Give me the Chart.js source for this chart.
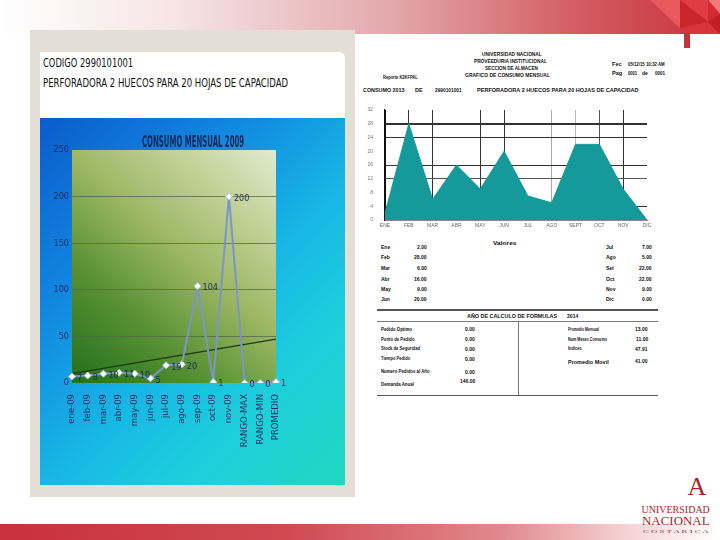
<!DOCTYPE html>
<html><head><meta charset="utf-8">
<script src="https://cdn.jsdelivr.net/npm/chart.js@4.4.0/dist/chart.umd.min.js"></script>
<style>
html,body{margin:0;padding:0;}
body{width:720px;height:540px;position:relative;overflow:hidden;background:#fff;font-family:"Liberation Sans",Arial,sans-serif;}
.abs{position:absolute;}
#topband{left:0;top:0;width:720px;height:34px;background:linear-gradient(to right,#ffffff 0%,#f6e3e4 25%,#e2a7aa 55%,#d35d62 80%,#c9323a 100%);}
#botband{left:0;top:524px;width:720px;height:16px;background:linear-gradient(to right,#c8313b 0%,#d04a52 40%,#e08a8e 70%,#f6d6d7 88%,#ffffff 100%);}
#leftpanel{left:30px;top:30px;width:325px;height:467px;background:#e4dfd6;}
#whitebox{left:40px;top:52px;width:305px;height:68px;background:#fff;border-radius:0 6px 0 0;}
#bluebox{left:40px;top:118px;width:305px;height:367px;background:linear-gradient(135deg,#0b5ccd 0%,#1288e0 30%,#17b6e4 55%,#1dcfdc 75%,#1fd8c0 100%);}
.ln{position:absolute;background:#555;}
</style></head><body>
<div id="topband" class="abs"></div>
<svg class="abs" style="left:630px;top:0" width="90" height="50">
  <polygon points="20,0 50,0 50,28" fill="#e85a5e"/>
  <polygon points="50,0 78,0 78,22" fill="#e03c44"/>
  <polygon points="50,0 50,28 78,22" fill="#c9252d"/>
  <polygon points="78,0 90,0 90,14" fill="#f07a7c"/>
  <polygon points="78,0 78,22 90,14" fill="#d42a32"/>
  <polygon points="50,28 78,22 90,34 60,34" fill="#d8343b"/>
  <polygon points="78,22 90,14 90,34" fill="#bf1f27"/>
</svg>
<div class="abs" style="left:684px;top:33px;width:6px;height:15px;background:#c8323a"></div>
<div id="leftpanel" class="abs"></div>
<div id="whitebox" class="abs"></div>
<div id="bluebox" class="abs"></div>
<div class="abs" style="left:40px;top:118px;width:305px;height:367px;">
  <canvas id="c1" width="305" height="367" style="width:305px;height:367px"></canvas>
</div>
<div class="abs" style="left:360px;top:95px;width:330px;height:140px;">
  <canvas id="c2" width="330" height="140" style="width:330px;height:140px"></canvas>
</div>
<div id="botband" class="abs"></div>
<script>
// ---------- DATA ----------
const leftCategories = ['ene-09','feb-09','mar-09','abr-09','may-09','jun-09','jul-09','ago-09','sep-09','oct-09','nov-09','RANGO-MAX','RANGO-MIN','PROMEDIO'];
const leftValues = [7, 8, 10, 11, 10, 5, 19, 20, 104, 1, 200, 0, 0, 1];
const trendValues = [10, null, null, null, null, null, null, null, null, null, null, null, null, 47];
const leftYTicks = [0, 50, 100, 150, 200, 250];

const rightCategories = ['ENE','FEB','MAR','ABR','MAY','JUN','JUL','AGO','SEPT','OCT','NOV','DIC'];
const rightValues = [2, 28, 6, 16, 9, 20, 7, 5, 22, 22, 9, 0];
const rightYTicks = [0, 4, 8, 12, 16, 20, 24, 28, 32];
const tableMonths = ['Ene','Feb','Mar','Abr','May','Jun','Jul','Ago','Set','Oct','Nov','Dic'];

const formulaLabelsLeft = ['Pedido Optimo','Punto de Pedido','Stock de Seguridad','Tiempo Pedido','Numero Pedidos al Año','Demanda Anual'];
const formulaValuesLeft = ['0.00','0.00','0.00','0.00','0.00','146.00'];
const formulaLabelsRight = ['Promedio Mensual','Num Meses Consumo','Indices','Promedio Movil'];
const formulaValuesRight = ['13.00','11.00','47.91','41.00'];

// ---------- TEXT HELPER ----------
function placeText(t){
  const d=document.createElement('div');
  d.textContent=t.text;
  d.style.cssText='position:absolute;white-space:nowrap;line-height:1;left:0;top:0;'+
    'font:'+(t.weight||'normal')+' '+t.size+'px '+(t.family||'"Liberation Sans", Arial, sans-serif')+';color:'+(t.color||'#111')+';'+(t.extra||'');
  document.body.appendChild(d);
  const w=d.offsetWidth,h=d.offsetHeight;
  const sx=t.w? t.w/w : 1;
  let left=t.x;
  if(t.align==='center') left=t.x-w*sx/2;
  else if(t.align==='right') left=t.x-w*sx;
  d.style.left=left+'px';
  d.style.top=(t.y-h/2)+'px';
  d.style.transformOrigin='0 50%';
  d.style.transform='scaleX('+sx+')';
}
const NARROW='"Liberation Sans Narrow","DejaVu Sans Condensed",sans-serif';
const SERIF='"Liberation Serif","DejaVu Serif",serif';

// left header
placeText({text:'CODIGO 2990101001',x:43,y:62,size:13,family:NARROW,w:90});
placeText({text:'PERFORADORA  2 HUECOS  PARA 20 HOJAS DE CAPACIDAD',x:43,y:82.5,size:13,family:NARROW,w:245});
placeText({text:'CONSUMO MENSUAL  2009',x:192.5,y:141.5,size:15,weight:'bold',family:NARROW,w:102,color:'#14275a',align:'center'});

// right header
const B='bold';
placeText({text:'UNIVERSIDAD NACIONAL',x:512,y:54,size:6,weight:B,w:60,align:'center'});
placeText({text:'PROVEEDURIA INSTITUCIONAL',x:510,y:61,size:6,weight:B,w:73,align:'center'});
placeText({text:'SECCION DE ALMACEN',x:511,y:67.5,size:6,weight:B,w:53,align:'center'});
placeText({text:'GRAFICO DE CONSUMO MENSUAL',x:507.5,y:74.5,size:6,weight:B,w:85,align:'center'});
placeText({text:'Reporte K2KFPAL',x:383,y:77,size:4.5,weight:B,w:35});
placeText({text:'Fec',x:612,y:63.5,size:5,weight:B,w:10});
placeText({text:'05/12/15 10:32 AM',x:628,y:63.5,size:5,weight:B,w:37});
placeText({text:'Pag',x:612,y:72.5,size:5,weight:B,w:10});
placeText({text:'0001',x:628,y:72.5,size:5,weight:B,w:9});
placeText({text:'de',x:642,y:72.5,size:5,weight:B,w:6});
placeText({text:'0001',x:655,y:72.5,size:5,weight:B,w:10});
placeText({text:'CONSUMO 2013',x:363,y:90,size:5.5,weight:B,w:42});
placeText({text:'DE',x:415,y:90,size:5.5,weight:B,w:8});
placeText({text:'2990101001',x:435,y:90,size:5.5,weight:B,w:27});
placeText({text:'PERFORADORA 2 HUECOS PARA 20 HOJAS DE CAPACIDAD',x:477,y:90,size:5.5,weight:B,w:161});

// values table
placeText({text:'Valores',x:505,y:243,size:5.5,weight:B,align:'center',w:24});
const rowY=[246.7,257.3,268.3,278.5,289,299.3];
for(let i=0;i<6;i++){
  placeText({text:tableMonths[i],x:381,y:rowY[i],size:5,weight:B});
  placeText({text:rightValues[i].toFixed(2),x:427,y:rowY[i],size:5,weight:B,align:'right'});
  placeText({text:tableMonths[i+6],x:606,y:rowY[i],size:5,weight:B});
  placeText({text:rightValues[i+6].toFixed(2),x:652,y:rowY[i],size:5,weight:B,align:'right'});
}
// formulas table
placeText({text:'AÑO DE CALCULO DE FORMULAS',x:467,y:315.7,size:6,weight:B,w:90});
placeText({text:'2014',x:567,y:315.7,size:6,weight:B,w:11});
const fLY=[329,339,348.5,358.5,371.5,384];
const fLW=[31,34,39,29,49,33];
for(let i=0;i<formulaLabelsLeft.length;i++){
  placeText({text:formulaLabelsLeft[i],x:381,y:fLY[i],size:4.5,weight:B,w:fLW[i]});
  placeText({text:formulaValuesLeft[i],x:475,y:(i===5?381:fLY[i]),size:5,weight:B,align:'right'});
}
const fRY=[329,339,348.5,361.5];
const fRW=[31,39,14,41];
for(let i=0;i<formulaLabelsRight.length;i++){
  placeText({text:formulaLabelsRight[i],x:568,y:fRY[i],size:(i===3?6:4.5),weight:B,w:fRW[i]});
  placeText({text:formulaValuesRight[i],x:648,y:(i===3?360.5:fRY[i]),size:5,weight:B,align:'right'});
}
// table lines
function hline(x,y,w,h,c){const d=document.createElement('div');d.className='ln';d.style.cssText+='left:'+x+'px;top:'+y+'px;width:'+w+'px;height:'+h+'px;background:'+c;document.body.appendChild(d);}
hline(377,309,281,1.5,'#555');
hline(377,320.5,281,1,'#777');
hline(518,321,1,74,'#777');
hline(377,394.5,281,1.5,'#555');

// logo
placeText({text:'A',x:697,y:487,size:26,family:SERIF,color:'#b31d2b',align:'center'});
placeText({text:'UNIVERSIDAD',x:675.5,y:509.5,size:10,family:SERIF,color:'#b31d2b',align:'center',w:68});
placeText({text:'NACIONAL',x:675.5,y:521.5,size:12,family:SERIF,color:'#b31d2b',align:'center',w:68});
placeText({text:'C O S T A   R I C A',x:675.5,y:531.5,size:4,family:SERIF,color:'#b31d2b',align:'center',w:66});

// ---------- LEFT CHART ----------
const plotBg={id:'plotBg',beforeDraw(chart){
  const a=chart.chartArea,ctx=chart.ctx;
  const g=ctx.createLinearGradient(a.left,a.bottom,a.right,a.top);
  g.addColorStop(0,'#22701a');g.addColorStop(0.3,'#5a9235');g.addColorStop(0.55,'#9cb764');g.addColorStop(0.8,'#c4d49c');g.addColorStop(1,'#e2ead0');
  ctx.save();ctx.fillStyle=g;ctx.fillRect(a.left,a.top,a.right-a.left,a.bottom-a.top);ctx.restore();
}};
const valueLabels={id:'valueLabels',afterDatasetsDraw(chart){
  const meta=chart.getDatasetMeta(0),ctx=chart.ctx;
  ctx.save();ctx.font='9px '+NARROW;ctx.fillStyle='#1b2b55';ctx.textBaseline='middle';ctx.textAlign='left';
  meta.data.forEach((p,i)=>{ctx.fillText(String(chart.data.datasets[0].data[i]),p.x+5,p.y+2);});
  ctx.restore();
}};
new Chart(document.getElementById('c1'),{
  type:'line',
  data:{labels:leftCategories,datasets:[
    {data:leftValues,borderColor:'#7c95c6',borderWidth:2,pointStyle:'rectRot',pointRadius:3.5,pointBackgroundColor:'#ffffff',pointBorderColor:'#b0c2e2',pointBorderWidth:1,tension:0,order:0},
    {data:trendValues,borderColor:'#1d3912',borderWidth:1.3,pointRadius:0,spanGaps:true,tension:0,order:1}
  ]},
  options:{
    responsive:false,animation:false,
    layout:{padding:{top:32,right:69,left:0,bottom:0}},
    plugins:{legend:{display:false},tooltip:{enabled:false},title:{display:false}},
    scales:{
      x:{offset:false,grid:{display:false},border:{display:false},
        ticks:{autoSkip:false,maxRotation:90,minRotation:90,padding:3,color:'#1b2b5e',font:{family:'DejaVu Sans',size:8.5}},
        afterFit:s=>{s.height=102;}},
      y:{min:0,max:250,
        afterBuildTicks:s=>{s.ticks=leftYTicks.map(v=>({value:v}));},
        ticks:{padding:3,color:'#1b2b5e',font:{family:NARROW,size:9}},
        grid:{color:c=>(c.tick.value>0&&c.tick.value<250)?'rgba(80,100,75,0.75)':'rgba(0,0,0,0)',drawTicks:false,lineWidth:1},
        border:{display:false},
        afterFit:s=>{s.width=32;}}
    }
  },
  plugins:[plotBg,valueLabels]
});

// ---------- RIGHT CHART ----------
const xGridColors=['#111','#333','#333','rgba(0,0,0,0)','#333','#333','rgba(0,0,0,0)','#aaa','#bbb','#555','#333','rgba(0,0,0,0)'];
const yGridColor=v=>({4:'#333',12:'#555',16:'#333',24:'#333',28:'#333'}[v]||'rgba(0,0,0,0)');
new Chart(document.getElementById('c2'),{
  type:'line',
  data:{labels:rightCategories,datasets:[
    {data:rightValues,fill:'origin',backgroundColor:'#16999a',borderColor:'#16999a',borderWidth:1,pointRadius:0,tension:0}
  ]},
  options:{
    responsive:false,animation:false,
    layout:{padding:{top:9,right:43,left:0,bottom:0}},
    plugins:{legend:{display:false},tooltip:{enabled:false}},
    scales:{
      x:{z:1,offset:false,
        grid:{color:c=>xGridColors[c.index]||'rgba(0,0,0,0)',drawTicks:false,lineWidth:1},
        border:{display:true,color:'#888',width:1},
        ticks:{autoSkip:false,maxRotation:0,minRotation:0,padding:3,color:'#666',font:{family:'Liberation Sans',size:5}},
        afterFit:s=>{s.height=13;}},
      y:{z:1,min:0,max:32,
        afterBuildTicks:s=>{s.ticks=rightYTicks.map(v=>({value:v}));},
        grid:{color:c=>yGridColor(c.tick.value),lineWidth:c=>c.tick.value===28?2:1,drawTicks:false},
        border:{display:true,color:'#111',width:1.2},
        ticks:{padding:12,color:'#777',font:{family:'Liberation Sans',size:5}},
        afterFit:s=>{s.width=25;}}
    }
  }
});
</script>
</body></html>
